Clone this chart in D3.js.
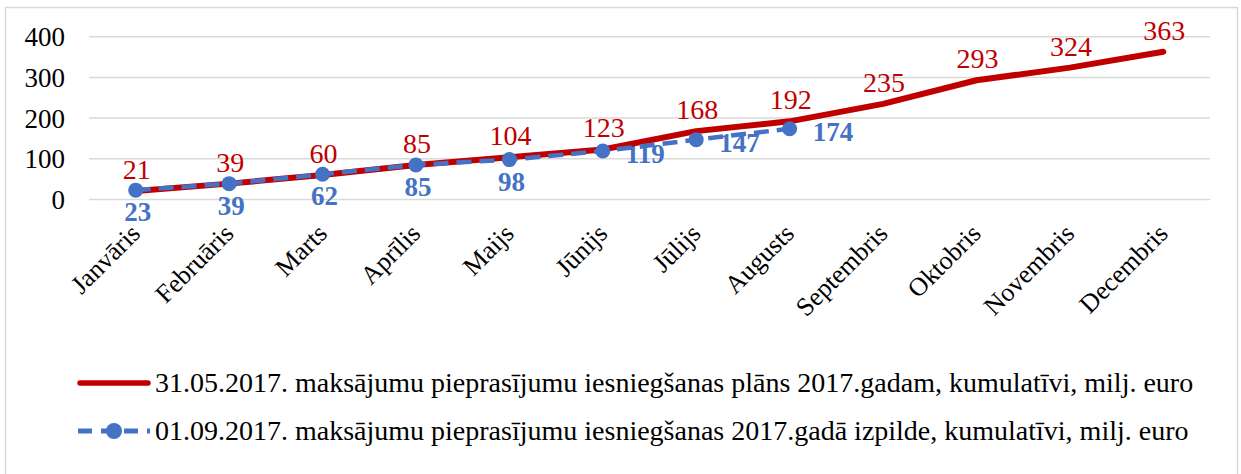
<!DOCTYPE html>
<html>
<head>
<meta charset="utf-8">
<script src="https://cdn.jsdelivr.net/npm/d3@7"></script>
<style>
  body { margin: 0; background: #fff; }
  svg text { font-family: 'Liberation Serif', 'Times New Roman', serif; }
</style>
</head>
<body>
<div id="chart"></div>
<script>
const months = ['Janvāris', 'Februāris', 'Marts', 'Aprīlis', 'Maijs', 'Jūnijs',
  'Jūlijs', 'Augusts', 'Septembris', 'Oktobris', 'Novembris', 'Decembris'];
const planValues = [21, 39, 60, 85, 104, 123, 168, 192, 235, 293, 324, 363];
const actualValues = [23, 39, 62, 85, 98, 119, 147, 174];
// where the blue label sits relative to its point
const actualLabelSide = ['below', 'below', 'below', 'below', 'below', 'right', 'right', 'right'];
const yTicks = [0, 100, 200, 300, 400];
const planName = '31.05.2017. maksājumu pieprasījumu iesniegšanas plāns 2017.gadam, kumulatīvi, milj. euro';
const actualName = '01.09.2017. maksājumu pieprasījumu iesniegšanas 2017.gadā izpilde, kumulatīvi, milj. euro';

const width = 1241, height = 474;
const red = '#C00000', blue = '#4472C4', grid = '#D9D9D9';

const svg = d3.select('#chart').append('svg')
  .attr('width', width)
  .attr('height', height);

// chart border
svg.append('rect')
  .attr('x', 5.5).attr('y', 7.5)
  .attr('width', 1232).attr('height', 480)
  .attr('fill', '#fff')
  .attr('stroke', grid)
  .attr('stroke-width', 1.5);

const x = d3.scaleBand().domain(months).range([89, 1210]);
const y = d3.scaleLinear().domain([0, 400]).range([199.5, 36.7]);
const cx = (m) => x(m) + x.bandwidth() / 2;

//Gridlines
svg.append('g').selectAll('line')
  .data(yTicks)
  .enter().append('line')
  .attr('x1', 89).attr('x2', 1210)
  .attr('y1', (d) => y(d)).attr('y2', (d) => y(d))
  .attr('stroke', grid)
  .attr('stroke-width', 1.5);

//Y axis
const yAxis = svg.append('g')
  .attr('transform', 'translate(65,0)')
  .call(d3.axisLeft(y).tickValues(yTicks).tickSize(0).tickPadding(0));
yAxis.select('.domain').remove();
yAxis.selectAll('text')
  .style('font-size', '27px')
  .attr('fill', '#000')
  .attr('dy', '0.34em');

//X axis labels, rotated
const xAxis = svg.append('g')
  .attr('transform', 'translate(0,200)')
  .call(d3.axisBottom(x).tickSize(0).tickPadding(0));
xAxis.select('.domain').remove();
xAxis.selectAll('text')
  .style('font-size', '26px')
  .attr('fill', '#000')
  .attr('text-anchor', 'end')
  .attr('x', 0).attr('y', 0).attr('dy', 0)
  .attr('transform', 'translate(6,35) rotate(-45)');

const line = d3.line()
  .curve(d3.curveLinear)
  .x((d, i) => cx(months[i]))
  .y((d) => y(d));

//Blue labels sit under the lines
svg.append('g').selectAll('text')
  .data(actualValues)
  .enter().append('text')
  .attr('x', (d, i) => actualLabelSide[i] === 'right' ? cx(months[i]) + 23 : cx(months[i]) + 2)
  .attr('y', (d, i) => actualLabelSide[i] === 'right' ? y(d) + 12 : y(d) + 31)
  .attr('text-anchor', (d, i) => actualLabelSide[i] === 'right' ? 'start' : 'middle')
  .attr('font-size', '27px')
  .attr('font-weight', 'bold')
  .attr('fill', blue)
  .text((d) => d);

//Plan line
svg.append('path')
  .datum(planValues)
  .attr('fill', 'none')
  .attr('stroke', red)
  .attr('stroke-width', 6)
  .attr('stroke-linejoin', 'round')
  .attr('stroke-linecap', 'round')
  .attr('d', line);

//Actual line
svg.append('path')
  .datum(actualValues)
  .attr('fill', 'none')
  .attr('stroke', blue)
  .attr('stroke-width', 4.5)
  .attr('stroke-dasharray', '15,8')
  .attr('d', line);

svg.append('g').selectAll('circle')
  .data(actualValues)
  .enter().append('circle')
  .attr('cx', (d, i) => cx(months[i]))
  .attr('cy', (d) => y(d))
  .attr('r', 7.5)
  .attr('fill', blue);

//Plan labels
svg.append('g').selectAll('text')
  .data(planValues)
  .enter().append('text')
  .attr('x', (d, i) => cx(months[i]) + 1)
  .attr('y', (d) => y(d) - 12)
  .attr('text-anchor', 'middle')
  .attr('font-size', '28px')
  .attr('fill', red)
  .text((d) => d);

//Legend
const legend = svg.append('g');
legend.append('line')
  .attr('x1', 80).attr('x2', 148).attr('y1', 383).attr('y2', 383)
  .attr('stroke', red).attr('stroke-width', 5.5).attr('stroke-linecap', 'round');
legend.append('text')
  .attr('x', 155).attr('y', 392)
  .attr('font-size', '28px')
  .text(planName);

legend.append('line')
  .attr('x1', 78).attr('x2', 150).attr('y1', 431).attr('y2', 431)
  .attr('stroke', blue).attr('stroke-width', 5).attr('stroke-dasharray', '14,9');
legend.append('circle')
  .attr('cx', 114).attr('cy', 431).attr('r', 8).attr('fill', blue);
legend.append('text')
  .attr('x', 155).attr('y', 440)
  .attr('font-size', '28px')
  .text(actualName);
</script>
</body>
</html>
